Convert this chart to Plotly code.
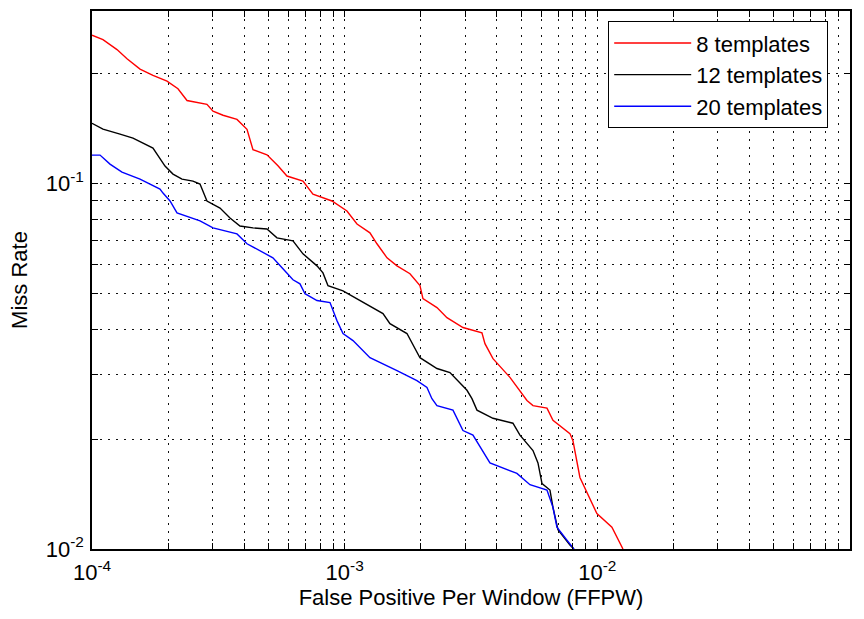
import plotly.graph_objects as go

# ---- data ----
series_names = ["8 templates", "12 templates", "20 templates"]

red_fppw = [1.0e-4, 1.105e-4, 1.256e-4, 1.376e-4, 1.549e-4, 1.743e-4, 1.981e-4, 2.189e-4,
            2.377e-4, 2.676e-4, 2.851e-4, 3.012e-4, 3.300e-4, 3.748e-4, 4.106e-4, 4.336e-4,
            4.926e-4, 5.445e-4, 5.910e-4, 6.839e-4, 7.49e-4, 8.906e-4, 1.021e-3, 1.119e-3,
            1.259e-3, 1.342e-3, 1.471e-3, 1.611e-3, 1.813e-3, 1.986e-3, 2.041e-3, 2.319e-3,
            2.54e-3, 2.939e-3, 3.494e-3, 3.591e-3, 3.864e-3, 4.51e-3, 5.266e-3, 5.563e-3,
            6.32e-3, 6.674e-3, 7.79e-3, 8.007e-3, 8.533e-3, 9.96e-3, 1.142e-2, 1.263e-2]
red_miss = [0.255, 0.248, 0.233, 0.220, 0.206, 0.198, 0.191, 0.182,
            0.169, 0.166, 0.165, 0.158, 0.154, 0.150, 0.141, 0.124,
            0.120, 0.112, 0.105, 0.1017, 0.0937, 0.0897, 0.0842, 0.0776,
            0.0734, 0.0685, 0.0627, 0.0596, 0.0567, 0.0526, 0.0485, 0.0458,
            0.0430, 0.0404, 0.0391, 0.0365, 0.0332, 0.0295, 0.0255, 0.0247,
            0.0243, 0.0225, 0.0207, 0.0198, 0.0157, 0.0125, 0.01148, 0.0100]

black_fppw = [1.0e-4, 1.105e-4, 1.291e-4, 1.453e-4, 1.743e-4, 1.945e-4, 2.092e-4, 2.271e-4,
              2.51e-4, 2.676e-4, 2.851e-4, 3.211e-4, 3.517e-4, 3.852e-4, 4.336e-4, 4.926e-4,
              5.395e-4, 6.243e-4, 6.839e-4, 7.77e-4, 8.206e-4, 8.59e-4, 9.85e-4, 1.15e-3,
              1.418e-3, 1.511e-3, 1.764e-3, 1.986e-3, 2.319e-3, 2.61e-3, 2.86e-3, 3.048e-3,
              3.19e-3, 3.339e-3, 3.864e-3, 4.634e-3, 4.94e-3, 5.563e-3, 5.822e-3, 6.04e-3,
              6.494e-3, 6.674e-3, 6.985e-3, 7.79e-3, 8.08e-3]
black_miss = [0.1464, 0.1411, 0.1367, 0.1333, 0.1252, 0.1118, 0.1063, 0.1030,
              0.1017, 0.0998, 0.0897, 0.0858, 0.0806, 0.0766, 0.0757, 0.0752,
              0.0711, 0.0698, 0.0643, 0.0596, 0.0570, 0.0526, 0.0509, 0.0479,
              0.0441, 0.0414, 0.0389, 0.0334, 0.0312, 0.0304, 0.0284, 0.0272,
              0.0258, 0.0240, 0.0228, 0.0221, 0.0205, 0.0186, 0.0172, 0.0151,
              0.0145, 0.0130, 0.0113, 0.01025, 0.0100]

blue_fppw = [1.0e-4, 1.076e-4, 1.178e-4, 1.314e-4, 1.549e-4, 1.858e-4, 1.91e-4, 2.036e-4,
             2.17e-4, 2.676e-4, 3.012e-4, 3.748e-4, 4.106e-4, 4.62e-4, 5.2e-4, 5.698e-4,
             6.243e-4, 6.655e-4, 6.965e-4, 7.77e-4, 8.75e-4, 9.32e-4, 9.85e-4, 1.079e-3,
             1.259e-3, 1.611e-3, 1.932e-3, 2.117e-3, 2.215e-3, 2.319e-3, 2.683e-3, 2.939e-3,
             3.219e-3, 3.758e-3, 4.806e-3, 5.412e-3, 6.32e-3, 6.674e-3, 6.92e-3, 7.58e-3,
             8.08e-3]
blue_miss = [0.1198, 0.1198, 0.1132, 0.1076, 0.1030, 0.0967, 0.0943, 0.0897,
             0.0832, 0.0791, 0.0757, 0.0729, 0.0685, 0.0655, 0.0627, 0.0585,
             0.0546, 0.0532, 0.0500, 0.0479, 0.0473, 0.0422, 0.0389, 0.0372,
             0.0334, 0.0308, 0.0289, 0.0277, 0.0258, 0.0247, 0.0240, 0.0211,
             0.0205, 0.0172, 0.0161, 0.0150, 0.0145, 0.0130, 0.01148, 0.01058,
             0.0100]

x_tickvals = [1e-4, 1e-3, 1e-2, 1e-1]
x_ticktext = ["10<sup>-4</sup>", "10<sup>-3</sup>", "10<sup>-2</sup>", "10<sup>-1</sup>"]
y_tickvals = [1e-2, 1e-1]
y_ticktext = ["10<sup>-2</sup>", "10<sup>-1</sup>"]

colors = ["#ff0000", "#000000", "#0000ff"]
FONT = "Liberation Sans, Arial, sans-serif"

fig = go.Figure()
for name, xs, ys, c in zip(series_names,
                           [red_fppw, black_fppw, blue_fppw],
                           [red_miss, black_miss, blue_miss], colors):
    fig.add_trace(go.Scatter(x=xs, y=ys, mode="lines", name=name, legendgroup=name,
                             line=dict(color=c, width=1.4)))

grid_dash = "1.5px,6.5px"
axis_common = dict(
    type="log",
    showline=True, linecolor="black", linewidth=1.5, mirror="ticks",
    ticks="inside", ticklen=6, tickcolor="black", tickwidth=1,
    showgrid=True, gridcolor="#111111", gridwidth=1, griddash=grid_dash,
    zeroline=False,
    tickmode="array",
    tickfont=dict(family=FONT, size=22, color="black"),
    minor=dict(ticks="inside", ticklen=6, tickcolor="black", dtick="D1",
               showgrid=True, gridcolor="#111111", gridwidth=1, griddash=grid_dash),
)

fig.update_xaxes(**axis_common, range=[-4, -1], tickvals=x_tickvals, ticktext=x_ticktext,
                 ticklabelstandoff=3,
                 title=dict(text="False Positive Per Window (FFPW)",
                            font=dict(family=FONT, size=22, color="black"),
                            standoff=5))
fig.update_yaxes(**axis_common, range=[-2, -0.527], tickvals=y_tickvals, ticktext=y_ticktext,
                 ticklabelstandoff=2,
                 title=dict(text="Miss Rate",
                            font=dict(family=FONT, size=22, color="black"),
                            standoff=12))

fig.update_layout(
    width=864, height=619,
    margin=dict(l=92, r=14, t=9, b=70),
    paper_bgcolor="white", plot_bgcolor="white",
    showlegend=True,
    legend=dict(x=0.681, y=0.981, xanchor="left", yanchor="top",
                bgcolor="white", bordercolor="black", borderwidth=1,
                font=dict(family=FONT, size=22, color="black"),
                traceorder="grouped", tracegroupgap=0, itemwidth=77),
)

fig.write_html("out.html")
